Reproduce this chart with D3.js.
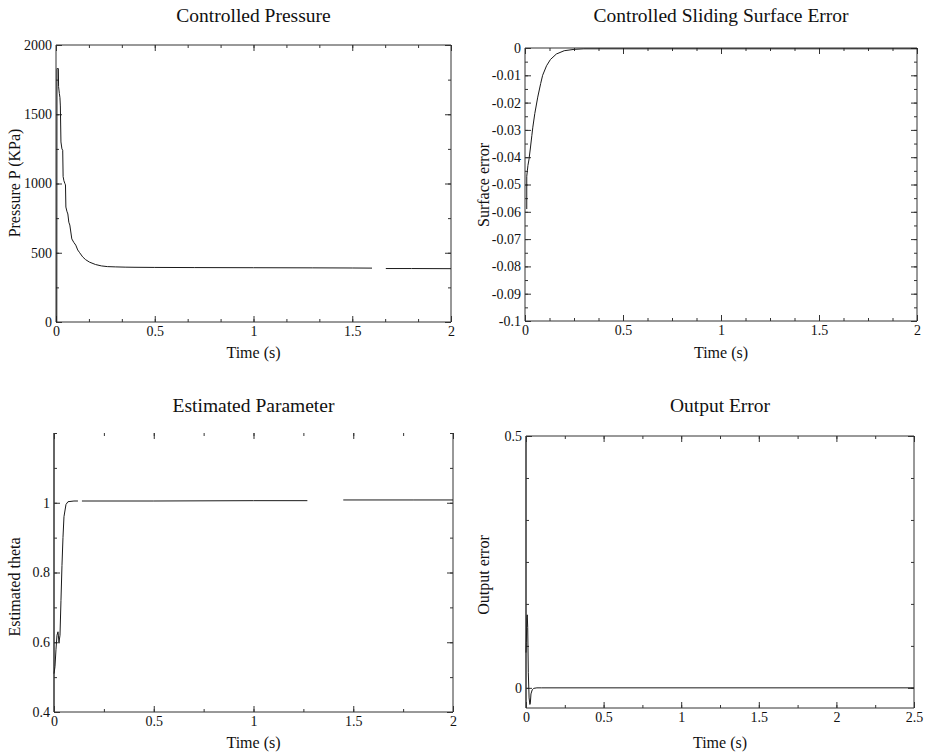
<!DOCTYPE html>
<html><head><meta charset="utf-8">
<script src="https://cdn.jsdelivr.net/npm/d3@7"></script>
<style>body{margin:0;background:#fff}svg{display:block}</style>
</head><body>
<svg id="c" width="927" height="753"></svg>
<script>
// ---------------- DATA ----------------
const pressureT = [0.004,0.005,0.009,0.012,0.013,0.017,0.02,0.022,0.025,0.03,0.034,0.036,0.04,0.045,0.048,0.05,0.055,0.06,0.065,0.07,0.08,0.09,0.1,0.11,0.12,0.135,0.15,0.17,0.2,0.23,0.26,0.3,0.35,0.4,0.5,0.7,1.0,1.3,1.5,1.6,1.62,1.67,1.8,2.0];
const pressureV = [0,1830,1830,1830,1700,1650,1620,1560,1300,1250,1240,1050,1020,1000,990,830,800,780,720,700,600,575,555,520,500,470,450,432,415,405,400,398,396,395,394,393,392,391,390,389,null,386,386,385];

const surfaceT = [0.009,0.009,0.012,0.015,0.02,0.027,0.035,0.04,0.05,0.065,0.08,0.09,0.11,0.13,0.16,0.2,0.25,0.3,0.5,1,1.5,2];
const surfaceV = [-0.059,-0.047,-0.045,-0.043,-0.041,-0.037,-0.032,-0.029,-0.024,-0.018,-0.013,-0.010,-0.0065,-0.0042,-0.0022,-0.0010,-0.0005,-0.0003,-0.0003,-0.0003,-0.0003,-0.0003];

const thetaT = [0,0.005,0.01,0.015,0.02,0.025,0.03,0.035,0.04,0.045,0.05,0.06,0.07,0.1,0.12,0.13,0.14,0.5,1.0,1.27,1.35,1.45,1.8,2.0];
const thetaV = [0.51,0.53,0.58,0.62,0.63,0.60,0.62,0.72,0.82,0.90,0.96,0.995,1.003,1.005,1.005,null,1.005,1.005,1.006,1.006,null,1.008,1.008,1.008];

const outErrT = [0,0.002,0.006,0.008,0.011,0.015,0.02,0.025,0.028,0.032,0.04,0.05,0.07,0.1,2.5];
const outErrV = [0.07,0.09,0.14,0.145,0.12,0.03,-0.02,-0.033,-0.03,-0.012,-0.004,-0.001,0,0,0];

const p1XTicks = [0,0.5,1,1.5,2];
const p1YTicks = [0,500,1000,1500,2000];
const p2XTicks = [0,0.5,1,1.5,2];
const p2YTicks = [0,-0.01,-0.02,-0.03,-0.04,-0.05,-0.06,-0.07,-0.08,-0.09,-0.1];
const p3XTicks = [0,0.5,1,1.5,2];
const p3YTicks = [0.4,0.6,0.8,1];
const p4XTicks = [0,0.5,1,1.5,2,2.5];
const p4YTicks = [0,0.5];

const titles = ["Controlled Pressure","Controlled Sliding Surface Error","Estimated Parameter","Output Error"];
const xLabels = ["Time (s)","Time (s)","Time (s)","Time (s)"];
const yLabels = ["Pressure P (KPa)","Surface error","Estimated theta","Output error"];

// ---------------- DRAW ----------------
const svg = d3.select("#c");
const FONT = "'Liberation Serif','DejaVu Serif',serif";
const fmt = d => { const v = +(+d).toFixed(4); return (v === 0 ? "0" : String(v)); };

function panel(cfg){
  const x = d3.scaleLinear().domain(cfg.xDom).range([cfg.x0,cfg.x1]);
  const y = d3.scaleLinear().domain(cfg.yDom).range([cfg.y1,cfg.y0]);
  const g = svg.append("g").attr("font-family",FONT).attr("color","#222");

  const xMinor = d3.range(cfg.xDom[0], cfg.xDom[1]+1e-9, cfg.xMinor);
  const yMinor = d3.range(Math.ceil(cfg.yDom[0]/cfg.yMinor-1e-9)*cfg.yMinor, cfg.yDom[1]+1e-9, cfg.yMinor);

  function ax(axisFn, scale, tv, size, labels, tr){
    const a = axisFn(scale).tickValues(tv).tickSize(size).tickSizeOuter(0).tickPadding(cfg.pad||4)
      .tickFormat(labels ? fmt : "");
    const s = g.append("g").attr("transform",tr).call(a);
    s.select(".domain").remove();
    s.selectAll("line").attr("stroke","#333").attr("stroke-width",1);
    s.selectAll("text").attr("font-size",14).attr("fill","#111").attr("font-family",FONT);
    return s;
  }
  // minor
  ax(d3.axisBottom, x, xMinor, -3, false, `translate(0,${cfg.y1})`);
  ax(d3.axisTop, x, xMinor, -3, false, `translate(0,${cfg.y0})`);
  ax(d3.axisLeft, y, yMinor, -3, false, `translate(${cfg.x0},0)`);
  ax(d3.axisRight, y, yMinor, -3, false, `translate(${cfg.x1},0)`);
  // major
  ax(d3.axisBottom, x, cfg.xTicks, -6, true, `translate(0,${cfg.y1})`);
  ax(d3.axisTop, x, cfg.xTicks, -6, false, `translate(0,${cfg.y0})`);
  ax(d3.axisLeft, y, cfg.yTicks, -6, true, `translate(${cfg.x0},0)`);
  ax(d3.axisRight, y, cfg.yTicks, -6, false, `translate(${cfg.x1},0)`);

  // frame
  const fr = g.append("g").attr("stroke","#333").attr("stroke-width",1).attr("fill","none");
  fr.append("line").attr("x1",cfg.x0).attr("x2",cfg.x1).attr("y1",cfg.y1).attr("y2",cfg.y1);
  fr.append("line").attr("x1",cfg.x0).attr("x2",cfg.x0).attr("y1",cfg.y0).attr("y2",cfg.y1).attr("stroke-width",cfg.leftW||1);
  fr.append("line").attr("x1",cfg.x1).attr("x2",cfg.x1).attr("y1",cfg.y0).attr("y2",cfg.y1);
  if(!cfg.noTop) fr.append("line").attr("x1",cfg.x0).attr("x2",cfg.x1).attr("y1",cfg.y0).attr("y2",cfg.y0);

  // data line
  const pts = cfg.t.map((t,i)=>[t,cfg.v[i]]);
  g.append("path").datum(pts)
    .attr("fill","none").attr("stroke","#1a1a1a").attr("stroke-width",1)
    .attr("d", d3.line().defined(d=>d[1]!==null).x(d=>x(d[0])).y(d=>y(d[1])));

  // labels
  g.append("text").attr("x",(cfg.x0+cfg.x1)/2).attr("y",cfg.titleY).attr("text-anchor","middle")
    .attr("font-size",19.5).attr("fill","#111").text(cfg.title);
  g.append("text").attr("x",(cfg.x0+cfg.x1)/2).attr("y",cfg.xLabY).attr("text-anchor","middle")
    .attr("font-size",16).attr("fill","#111").text(cfg.xLab);
  g.append("text").attr("transform",`translate(${cfg.yLabX},${cfg.yLabY}) rotate(-90)`)
    .attr("text-anchor","middle").attr("font-size",16).attr("fill","#111").text(cfg.yLab);
}

panel({x0:56,x1:451,y0:45,y1:322,xDom:[0,2],yDom:[0,2000],xTicks:p1XTicks,yTicks:p1YTicks,
  xMinor:1/6,yMinor:250,t:pressureT,v:pressureV,title:titles[0],titleY:22,xLab:xLabels[0],xLabY:358,
  yLab:yLabels[0],yLabX:20,yLabY:183});
panel({x0:525,x1:917,y0:48,y1:321,xDom:[0,2],yDom:[-0.1,0],xTicks:p2XTicks,yTicks:p2YTicks,
  xMinor:0.125,yMinor:0.005,t:surfaceT,v:surfaceV,title:titles[1],titleY:22,xLab:xLabels[1],xLabY:358,
  yLab:yLabels[1],yLabX:489,yLabY:185});
panel({x0:54,x1:453,y0:433,y1:712,xDom:[0,2],yDom:[0.4,1.2],xTicks:p3XTicks,yTicks:p3YTicks,
  xMinor:0.25,yMinor:0.1,t:thetaT,v:thetaV,title:titles[2],titleY:412,xLab:xLabels[2],xLabY:748,
  yLab:yLabels[2],yLabX:20,yLabY:587,noTop:true,leftW:1.5});
panel({x0:526,x1:914,y0:436,y1:708,xDom:[0,2.5],yDom:[-0.04,0.5],xTicks:p4XTicks,yTicks:p4YTicks,
  xMinor:0.25,yMinor:0.5/6,t:outErrT,v:outErrV,title:titles[3],titleY:412,xLab:xLabels[3],xLabY:748,
  yLab:yLabels[3],yLabX:489,yLabY:575,leftW:1.5});
</script>
</body></html>
